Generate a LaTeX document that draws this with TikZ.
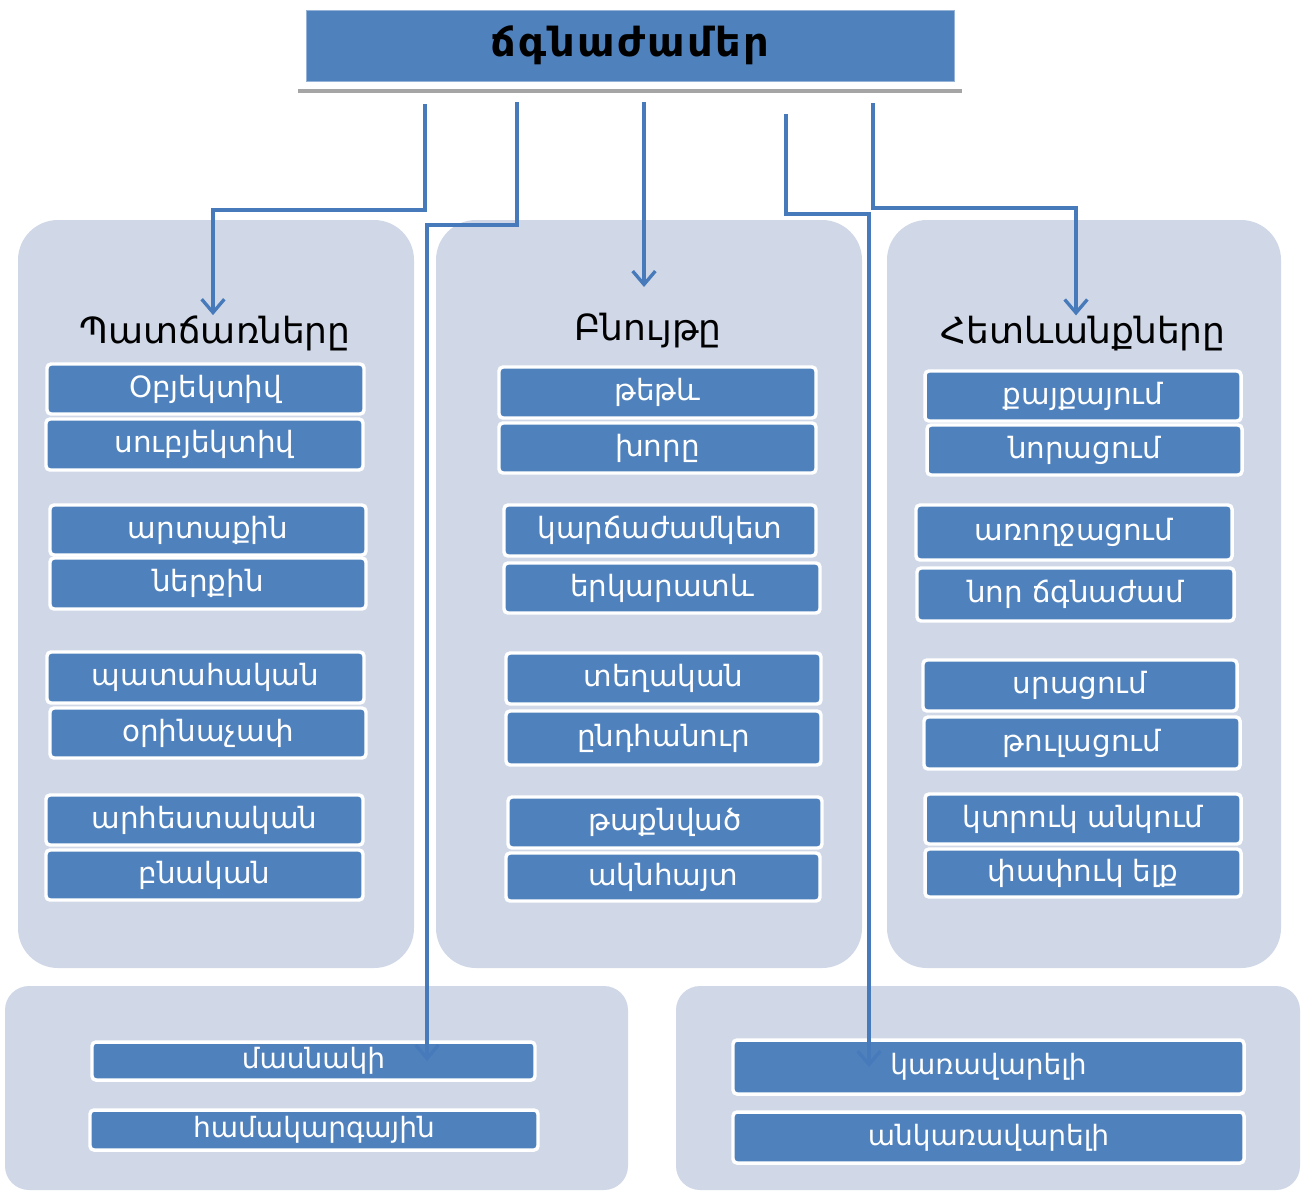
\documentclass[tikz,border=0pt]{standalone}
\usepackage{fontspec}
\setmainfont{DejaVu Sans}
\usetikzlibrary{fit,arrows.meta}
\definecolor{boxblue}{RGB}{79,129,189}
\definecolor{panelfill}{RGB}{208,216,232}
\definecolor{conncol}{RGB}{70,122,186}
\definecolor{barcol}{RGB}{165,165,165}
\newcommand\ibox[6]{\node[itembox, fit={(#2,#3) (#4,#5)},
  label={[itemtext]center:#6}] (#1) {};}
\newcommand\iboxlow[6]{\node[itembox, fit={(#2,#3) (#4,#5)},
  label={[lowtext]center:#6}] (#1) {};}
\begin{document}
\begin{tikzpicture}[x=0.75pt,y=-0.75pt,
  panelbox/.style={fill=panelfill, rounded corners=30pt, inner sep=0pt},
  lowpanel/.style={fill=panelfill, rounded corners=18pt, inner sep=0pt},
  itembox/.style={fill=boxblue, draw=white, line width=2.6pt, rounded corners=3pt, inner sep=0pt},
  itemtext/.style={inner sep=0pt, text=white, font=\fontsize{22}{26}\selectfont},
  lowtext/.style={inner sep=0pt, text=white, font=\fontsize{21}{24}\selectfont},
  header/.style={font=\fontsize{27}{30}\selectfont, inner sep=0pt, anchor=base},
  titlebox/.style={fill=boxblue, draw=boxblue!60!white, line width=0.6pt, inner sep=0pt},
  titletext/.style={inner sep=0pt, font=\bfseries\fontsize{30}{33}\selectfont\addfontfeature{LetterSpace=6}},
  conn/.style={draw=conncol, line width=2.5pt, -{Straight Barb[length=10pt,width=17pt]}}]
\fill[white] (0,0) rectangle (1308,1192);
\useasboundingbox (0,0) rectangle (1308,1192);

% title
\node[titlebox, fit={(306,10) (954,81)}, label={[titletext]center:ճգնաժամեր}] (title) {};
\draw[barcol, line width=3pt] (298,91) -- (962,91);

% panels
\node[panelbox, fit={(18,220) (414,968)}] (pL) {};
\node[panelbox, fit={(436,220) (862,968)}] (pM) {};
\node[panelbox, fit={(887,220) (1281,968)}] (pR) {};
\node[lowpanel, fit={(5,986) (628,1190)}] (pBL) {};
\node[lowpanel, fit={(676,986) (1300,1190)}] (pBR) {};

% headers
\node[header] (hL) at (215,343) {Պատճառները};
\node[header] (hM) at (648,340) {Բնույթը};
\node[header] (hR) at (1083,343) {Հետևանքները};

% left column
\ibox{l1}{47}{364}{364}{414}{Օբյեկտիվ}
\ibox{l2}{46}{419}{363}{470}{սուբյեկտիվ}
\ibox{l3}{50}{505}{366}{555}{արտաքին}
\ibox{l4}{50}{558}{366}{609}{ներքին}
\ibox{l5}{47}{652}{364}{703}{պատահական}
\ibox{l6}{50}{708}{366}{758}{օրինաչափ}
\ibox{l7}{46}{795}{363}{845}{արհեստական}
\ibox{l8}{46}{850}{363}{900}{բնական}

% middle column
\ibox{m1}{499}{367}{816}{418}{թեթև}
\ibox{m2}{499}{423}{816}{473}{խորը}
\ibox{m3}{504}{505}{816}{556}{կարճաժամկետ}
\ibox{m4}{504}{563}{820}{613}{երկարատև}
\ibox{m5}{506}{653}{821}{704}{տեղական}
\ibox{m6}{506}{711}{821}{765}{ընդհանուր}
\ibox{m7}{508}{797}{822}{848}{թաքնված}
\ibox{m8}{506}{853}{820}{901}{ակնհայտ}

% right column
\ibox{r1}{925}{371}{1241}{421}{քայքայում}
\ibox{r2}{927}{425}{1242}{475}{նորացում}
\ibox{r3}{916}{505}{1232}{560}{առողջացում}
\ibox{r4}{917}{568}{1234}{621}{նոր ճգնաժամ}
\ibox{r5}{923}{660}{1237}{711}{սրացում}
\ibox{r6}{924}{717}{1240}{769}{թուլացում}
\ibox{r7}{925}{794}{1241}{844}{կտրուկ անկում}
\ibox{r8}{925}{849}{1241}{897}{փափուկ ելք}

% bottom
\iboxlow{bl1}{92}{1042}{535}{1080}{մասնակի}
\iboxlow{bl2}{90}{1110}{538}{1150}{համակարգային}
\iboxlow{br1}{733}{1040}{1244}{1094}{կառավարելի}
\iboxlow{br2}{733}{1112}{1244}{1163}{անկառավարելի}

% connectors
\coordinate (s1) at (425,104);
\coordinate (t1) at (425,210);
\coordinate (t1b) at (213,210);
\coordinate (s2) at (517,102);
\coordinate (t2) at (517,225);
\coordinate (t2b) at (427,225);
\coordinate (s3) at (644,102);
\coordinate (e3) at (644,287);
\coordinate (s4) at (786,114);
\coordinate (t4) at (786,214);
\coordinate (t4b) at (869,214);
\coordinate (s5) at (873,103);
\coordinate (t5) at (873,208);
\coordinate (t5b) at (1076,208);

\draw[conn] (s1) -- (t1) -- (t1b) -- (t1b |- hL.north);
\draw[conn] (s2) -- (t2) -- (t2b) -- (t2b |- bl1.center);
\draw[conn] (s3) -- (e3);
\draw[conn] (s4) -- (t4) -- (t4b) -- (t4b |- br1.center);
\draw[conn] (s5) -- (t5) -- (t5b) -- (t5b |- hR.north);
\end{tikzpicture}
\end{document}
